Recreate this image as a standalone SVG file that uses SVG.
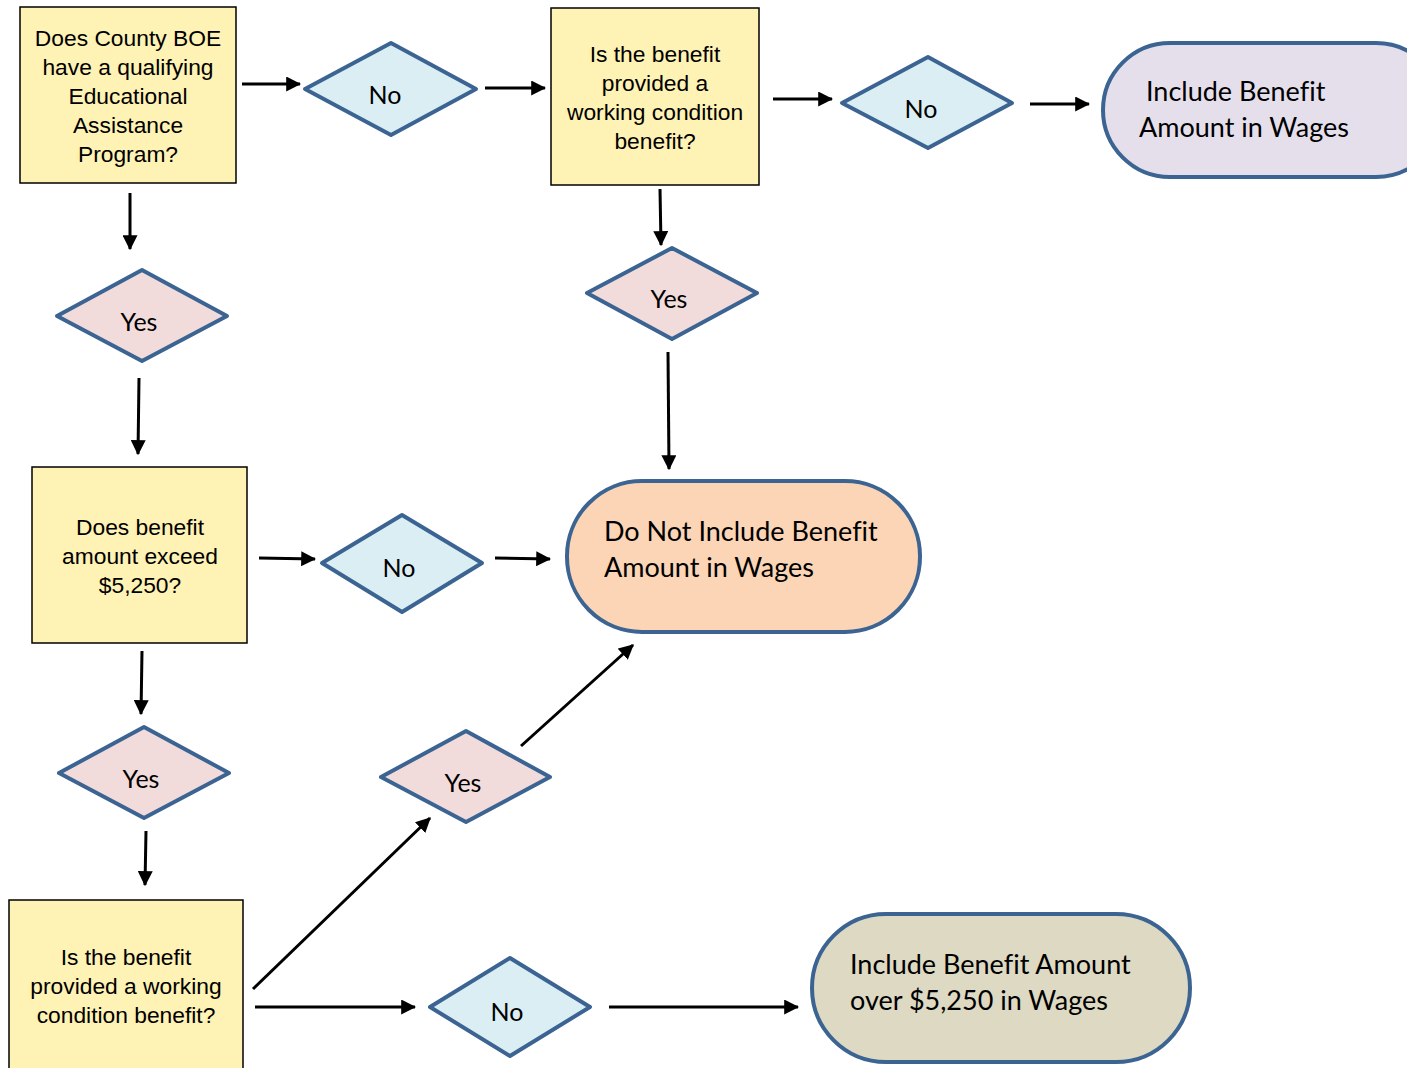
<svg xmlns="http://www.w3.org/2000/svg" width="1407" height="1068" viewBox="0 0 1407 1068">
<defs>
<marker id="ah" markerWidth="5" markerHeight="5" refX="4.6" refY="2.5" orient="auto" markerUnits="strokeWidth">
<path d="M0,0 L5,2.5 L0,5 Z" fill="#000"/>
</marker>
<style>
.box{fill:#FFF2B5;stroke:#000;stroke-width:1.5}
.dn{fill:#DAEEF3;stroke:#3C6493;stroke-width:4;stroke-linejoin:round}
.dy{fill:#F2DCDB;stroke:#3C6493;stroke-width:4;stroke-linejoin:round}
.term{stroke:#3C6493;stroke-width:4}
.bt{font-family:"Liberation Sans",Arial,sans-serif;font-size:22.8px;fill:#000;text-anchor:middle}
.dt{font-family:Lato,"Liberation Sans",sans-serif;font-size:25px;fill:#000;text-anchor:middle}
.tt{font-family:Lato,"Liberation Sans",sans-serif;font-size:27px;fill:#000;font-variant-ligatures:none;font-feature-settings:"liga" 0,"clig" 0}
.c line{stroke:#000;stroke-width:3;marker-end:url(#ah)}
</style>
</defs>
<rect width="1407" height="1068" fill="#fff"/>
<g class="c" id="connectors">
<line x1="242" y1="84" x2="300" y2="84"/>
<line x1="485" y1="88" x2="545" y2="88"/>
<line x1="773" y1="99" x2="832" y2="99"/>
<line x1="1030" y1="104" x2="1089" y2="104"/>
<line x1="130" y1="193" x2="130" y2="249"/>
<line x1="139" y1="378" x2="138" y2="454"/>
<line x1="259" y1="558" x2="315" y2="559"/>
<line x1="495" y1="558" x2="550" y2="559"/>
<line x1="660" y1="189" x2="661" y2="245"/>
<line x1="668" y1="352" x2="669" y2="469"/>
<line x1="142" y1="651" x2="141" y2="714"/>
<line x1="146" y1="831" x2="145" y2="885"/>
<line x1="253" y1="989" x2="430" y2="818"/>
<line x1="521" y1="746" x2="633" y2="645"/>
<line x1="255" y1="1007" x2="415" y2="1007"/>
<line x1="609" y1="1007" x2="798" y2="1007"/>
</g>
<g id="q1">
<rect class="box" x="20" y="7" width="216" height="176"/>
<text class="bt" x="128" y="46">Does County BOE</text>
<text class="bt" x="128" y="75">have a qualifying</text>
<text class="bt" x="128" y="104">Educational</text>
<text class="bt" x="128" y="133">Assistance</text>
<text class="bt" x="128" y="162">Program?</text>
</g>
<g id="no1">
<polygon class="dn" points="305,89 391,43 476,89 391,135"/>
<text class="dt" x="385" y="104">No</text>
</g>
<g id="q2">
<rect class="box" x="551" y="8" width="208" height="177"/>
<text class="bt" x="655" y="62">Is the benefit</text>
<text class="bt" x="655" y="91">provided a</text>
<text class="bt" x="655" y="120">working condition</text>
<text class="bt" x="655" y="149">benefit?</text>
</g>
<g id="no2">
<polygon class="dn" points="842,103 928,57 1012,103 928,148"/>
<text class="dt" x="921" y="118">No</text>
</g>
<g id="t1">
<rect class="term" x="1103" y="43" width="340" height="134" rx="67" fill="#E5DFEC"/>
<text class="tt" x="1146" y="101">Include Benefit</text>
<text class="tt" x="1139" y="137">Amount in Wages</text>
</g>
<g id="yes1">
<polygon class="dy" points="57,316 142,270 227,316 142,361"/>
<text class="dt" x="139" y="331">Yes</text>
</g>
<g id="q3">
<rect class="box" x="32" y="467" width="215" height="176"/>
<text class="bt" x="140" y="535">Does benefit</text>
<text class="bt" x="140" y="564">amount exceed</text>
<text class="bt" x="140" y="593">$5,250?</text>
</g>
<g id="no3">
<polygon class="dn" points="322,563 402,515 482,563 402,612"/>
<text class="dt" x="399" y="577">No</text>
</g>
<g id="t2">
<rect class="term" x="567" y="481" width="353" height="151" rx="75" fill="#FBD5B5"/>
<text class="tt" x="604" y="541">Do Not Include Benefit</text>
<text class="tt" x="604" y="577">Amount in Wages</text>
</g>
<g id="yes2">
<polygon class="dy" points="587,293 672,248 757,293 672,339"/>
<text class="dt" x="669" y="308">Yes</text>
</g>
<g id="yes3">
<polygon class="dy" points="59,773 144,727 229,773 144,818"/>
<text class="dt" x="141" y="788">Yes</text>
</g>
<g id="q4">
<rect class="box" x="9" y="900" width="234" height="180"/>
<text class="bt" x="126" y="965">Is the benefit</text>
<text class="bt" x="126" y="994">provided a working</text>
<text class="bt" x="126" y="1023">condition benefit?</text>
</g>
<g id="yes4">
<polygon class="dy" points="381,777 466,731 550,777 466,822"/>
<text class="dt" x="463" y="792">Yes</text>
</g>
<g id="no4">
<polygon class="dn" points="430,1007 510,958 590,1007 510,1056"/>
<text class="dt" x="507" y="1021">No</text>
</g>
<g id="t3">
<rect class="term" x="812" y="914" width="378" height="148" rx="74" fill="#DDD9C3"/>
<text class="tt" x="850" y="974">Include Benefit Amount</text>
<text class="tt" x="850" y="1010">over $5,250 in Wages</text>
</g>
</svg>
